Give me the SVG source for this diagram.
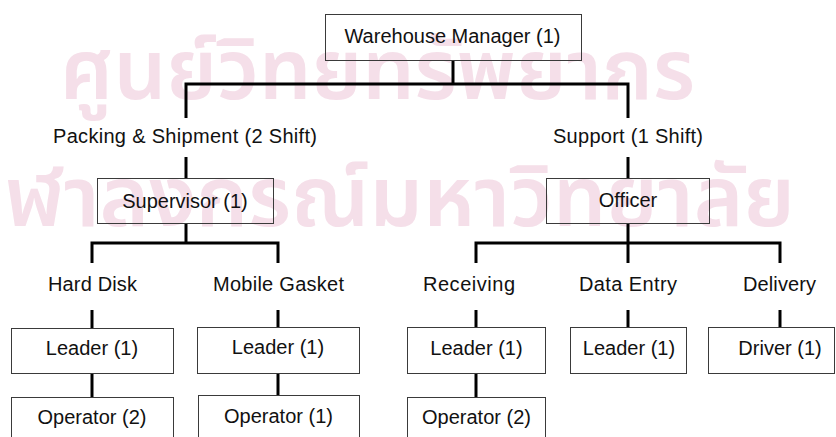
<svg xmlns="http://www.w3.org/2000/svg" width="836" height="437" viewBox="0 0 836 437">
<style>
.bg{fill:#ffffff}
.wm{font-family:"Noto Sans Thai","Noto Sans","DejaVu Sans",sans-serif;font-size:84px;font-weight:600;fill:#f5dfe9}
.box{fill:none;stroke:#3a3a3a;stroke-width:1}
.t{font-family:"Liberation Sans",Arial,sans-serif;font-size:20px;fill:#111111;text-anchor:middle}
.lbl{font-family:"Liberation Sans",Arial,sans-serif;font-size:20px;fill:#111111}
.c{fill:none;stroke:#000000;stroke-width:3;stroke-linecap:butt;stroke-linejoin:miter}
</style>
<rect class="bg" x="0" y="0" width="836" height="437"/>
<g id="watermark">
<text class="wm" x="60" y="99" textLength="635" lengthAdjust="spacingAndGlyphs">ศูนย์วิทยทรัพยากร</text>
<text class="wm" x="5" y="226" textLength="790" lengthAdjust="spacingAndGlyphs">ฬาลงกรณ์มหาวิทยาลัย</text>
</g>
<g id="connectors">
<path class="c" d="M453 61 V84"/>
<path class="c" d="M186 118 V84 H628 V118"/>
<path class="c" d="M186 157 V178"/>
<path class="c" d="M628 157 V178"/>
<path class="c" d="M186 224 V243"/>
<path class="c" d="M92 263 V243 H278 V263"/>
<path class="c" d="M92 310 V328"/>
<path class="c" d="M278 310 V327"/>
<path class="c" d="M92 374 V397"/>
<path class="c" d="M278 374 V395"/>
<path class="c" d="M628 224 V243"/>
<path class="c" d="M476 263 V243 H780 V263"/>
<path class="c" d="M628 243 V263"/>
<path class="c" d="M476 310 V327"/>
<path class="c" d="M628 310 V327"/>
<path class="c" d="M780 310 V327"/>
<path class="c" d="M476 373 V397"/>
</g>
<g id="warehouse-manager">
<rect class="box" x="325.5" y="14.5" width="256" height="46"/>
<text class="t" x="452.5" y="42.5">Warehouse Manager (1)</text>
</g>
<g id="packing-shipment">
<text class="lbl" x="53" y="143" textLength="264" lengthAdjust="spacing">Packing &amp; Shipment (2 Shift)</text>
</g>
<g id="support">
<text class="lbl" x="553" y="143" textLength="150" lengthAdjust="spacing">Support (1 Shift)</text>
</g>
<g id="supervisor">
<rect class="box" x="97.5" y="178.5" width="176" height="45"/>
<text class="t" x="185" y="208">Supervisor (1)</text>
</g>
<g id="officer">
<rect class="box" x="546.5" y="178.5" width="163" height="45"/>
<text class="t" x="628" y="207">Officer</text>
</g>
<g id="hard-disk">
<text class="lbl" x="48" y="291" textLength="89" lengthAdjust="spacing">Hard Disk</text>
</g>
<g id="mobile-gasket">
<text class="lbl" x="213" y="291" textLength="131" lengthAdjust="spacing">Mobile Gasket</text>
</g>
<g id="receiving">
<text class="lbl" x="423" y="291" textLength="92" lengthAdjust="spacing">Receiving</text>
</g>
<g id="data-entry">
<text class="lbl" x="579" y="291" textLength="98" lengthAdjust="spacing">Data Entry</text>
</g>
<g id="delivery">
<text class="lbl" x="743" y="291" textLength="73" lengthAdjust="spacing">Delivery</text>
</g>
<g id="leader-hd">
<rect class="box" x="11.5" y="328.5" width="162" height="45"/>
<text class="t" x="92" y="355">Leader (1)</text>
</g>
<g id="operator-hd">
<rect class="box" x="11.5" y="397.5" width="162" height="50"/>
<text class="t" x="92" y="424">Operator (2)</text>
</g>
<g id="leader-mg">
<rect class="box" x="197.5" y="327.5" width="162" height="46"/>
<text class="t" x="278" y="353.5">Leader (1)</text>
</g>
<g id="operator-mg">
<rect class="box" x="198.5" y="395.5" width="161" height="50"/>
<text class="t" x="278.5" y="423">Operator (1)</text>
</g>
<g id="leader-rec">
<rect class="box" x="407.5" y="327.5" width="138" height="46"/>
<text class="t" x="476.5" y="355">Leader (1)</text>
</g>
<g id="operator-rec">
<rect class="box" x="407.5" y="397.5" width="138" height="50"/>
<text class="t" x="476.5" y="423.5">Operator (2)</text>
</g>
<g id="leader-de">
<rect class="box" x="570.5" y="327.5" width="116" height="46"/>
<text class="t" x="629" y="355">Leader (1)</text>
</g>
<g id="driver">
<rect class="box" x="708.5" y="327.5" width="126" height="46"/>
<text class="t" x="780" y="355">Driver (1)</text>
</g>
</svg>
